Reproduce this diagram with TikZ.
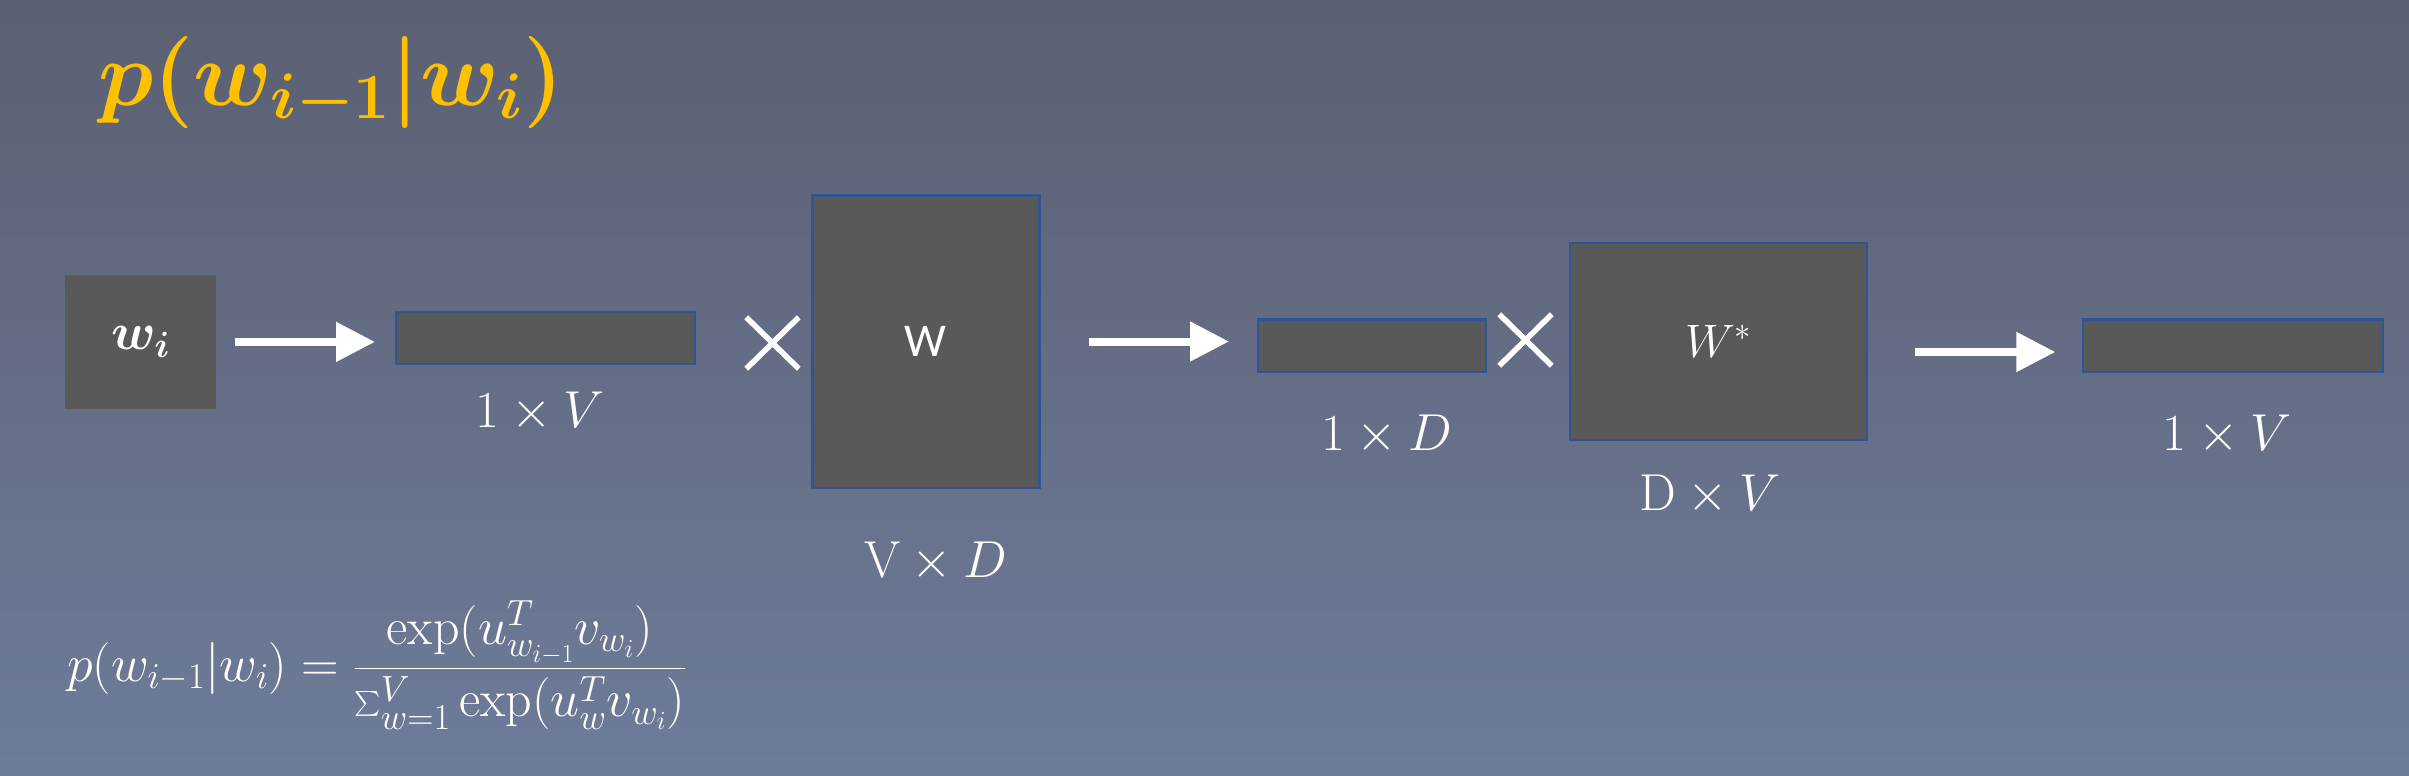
\RequirePackage{fix-cm}
\documentclass[tikz,border=0pt]{standalone}
\usepackage{amsmath}
\usepackage{bm}
\usepackage{fontspec}
\newfontfamily\calibri{Carlito}
\usetikzlibrary{arrows.meta,shapes.misc,calc}
\definecolor{bgtop}{HTML}{5B6072}
\definecolor{bgbot}{HTML}{6E7C9A}
\definecolor{boxfill}{HTML}{595959}
\definecolor{boxline}{HTML}{2F5597}
\definecolor{gold}{HTML}{FFC000}
\begin{document}
\begin{tikzpicture}[x=1pt,y=-1pt,
  mat/.style={draw=boxline, line width=2.5pt, fill=boxfill, inner sep=0pt, outer sep=0pt},
  lab/.style={text=white, font=\fontsize{52}{60}\selectfont, inner sep=0pt, anchor=base},
  arr/.style={white, line width=8pt, -{Triangle[length=39pt,width=38pt]}},
  times/.style={cross out, draw=white, line width=5.5pt, minimum width=47pt, minimum height=46pt, inner sep=0pt}]
\shade[top color=bgtop, bottom color=bgbot] (0,0) rectangle (2409,776);
\useasboundingbox (0,0) rectangle (2409,776);

% title
\node[anchor=base west, inner sep=0pt, text=gold, font=\fontsize{92}{104}\selectfont] (title) at (98,105) {$\bm{p(w_{i-1}|w_i)}$};

% matrices
\node[mat, draw=none, minimum width=151.6pt, minimum height=133.7pt, text=white, font=\fontsize{52}{60}\selectfont] (wi) at (140.5,341.9) {$\bm{w_i}$};
\node[mat, minimum width=299pt, minimum height=52pt] (v1) at (545.3,337.9) {};
\node[mat, minimum width=227pt, minimum height=292.5pt, text=white, font=\calibri\fontsize{47}{56}\selectfont] (W) at (925.8,341.5) {W};
\node[mat, minimum width=228pt, minimum height=52.5pt] (d1) at (1371.75,345.5) {};
\node[mat, minimum width=297pt, minimum height=197pt, text=white, font=\fontsize{47}{56}\selectfont] (Ws) at (1718.5,341.4) {$W^*$};
\node[mat, minimum width=300pt, minimum height=52.5pt] (v2) at (2233.1,345.5) {};

% multiplication signs
\node[times] (x1) at (772.5,343) {};
\node[times] (x2) at (1525.5,340) {};

% arrows
\draw[arr, shorten <=18.7pt, shorten >=20.8pt] (wi.east) -- (wi.east -| v1.west);
\draw[arr, shorten <=49.7pt, shorten >=28.7pt] (W.east) -- (W.east -| d1.west);
\draw[arr, shorten <=48.4pt, shorten >=27.7pt] ([yshift=-10.6pt]Ws.east) -- ([yshift=-10.6pt]Ws.east -| v2.west);

% dimension labels
\node[lab] (l1) at (540,427) {$1\times V$};
\node[lab] (l2) at (936,577) {$\mathrm{V}\times D$};
\node[lab] (l3) at (1387,450) {$1\times D$};
\node[lab] (l4) at (1710,510) {$\mathrm{D}\times V$};
\node[lab] (l5) at (2227,450) {$1\times V$};

% formula
\node[anchor=base west, inner sep=0pt, text=white, font=\fontsize{52}{62}\selectfont] (eq) at (67,681) {$\displaystyle p(w_{i-1}|w_i)=\frac{\exp(u_{w_{i-1}}^T v_{w_i})}{\sum_{w=1}^{V}\exp(u_w^T v_{w_i})}$};
\end{tikzpicture}
\end{document}
